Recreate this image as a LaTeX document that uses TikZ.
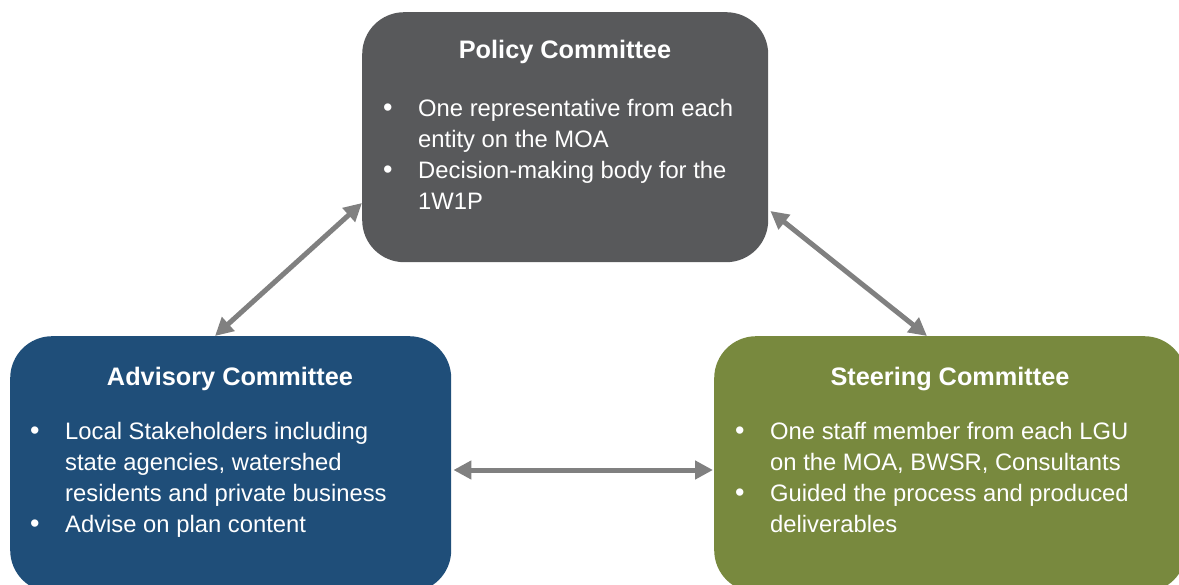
\documentclass[tikz,border=0pt]{standalone}
\usepackage{fontspec}
\setmainfont{Liberation Sans}
\usetikzlibrary{calc,arrows.meta}
\definecolor{polc}{HTML}{58595B}
\definecolor{advc}{HTML}{1F4E79}
\definecolor{stec}{HTML}{78893E}
\definecolor{arrc}{HTML}{808080}
\newcommand{\bitem}{\makebox[35pt][l]{\fontsize{27}{31}\selectfont•}}
\newcommand{\bcont}{\hspace*{35pt}}
\begin{document}
\begin{tikzpicture}[x=1pt,y=-1pt,
  box/.style={rounded corners=42pt, inner sep=0pt, anchor=north west},
  ttl/.style={text=white, font=\bfseries\fontsize{25.3}{30}\selectfont, anchor=base, inner sep=0pt},
  lst/.style={text=white, font=\fontsize{23.8}{31}\selectfont, align=left, anchor=north west, inner sep=0pt},
  link/.style={draw=arrc, line width=5pt, {Triangle[length=18pt,width=18pt]}-{Triangle[length=18pt,width=18pt]}}]
\useasboundingbox (0,0) rectangle (1179,585);
\clip (0,0) rectangle (1179,585);
\node[box, fill=polc, minimum width=406pt, minimum height=250pt] (pol) at (362,12) {};
\node[box, fill=advc, minimum width=441pt, minimum height=256pt] (adv) at (10,336) {};
\node[box, fill=stec, minimum width=472pt, minimum height=256pt] (ste) at (714,336) {};
\node[ttl] (polt) at (565,59) {Policy Committee};
\node[ttl] (advt) at (230,386) {Advisory Committee};
\node[ttl] (stet) at (950,386) {Steering Committee};
\node[lst] (poll) at (383,99) {\bitem One representative from each\\\bcont entity on the MOA\\\bitem Decision-making body for the\\\bcont 1W1P};
\node[lst] (advl) at (30,422) {\bitem Local Stakeholders including\\\bcont state agencies, watershed\\\bcont residents and private business\\\bitem Advise on plan content};
\node[lst] (stel) at (735,422) {\bitem One staff member from each LGU\\\bcont on the MOA, BWSR, Consultants\\\bitem Guided the process and produced\\\bcont deliverables};
\draw[link] ($(adv.north west)+(205,0)$) -- ($(pol.north west)+(0,191)$);
\draw[link] ($(pol.north east)+(2,199)$) -- ($(ste.north west)+(213,0)$);
\draw[link] ($(adv.north east)+(2,134)$) -- ($(ste.north west)+(-1,134)$);
\end{tikzpicture}
\end{document}
